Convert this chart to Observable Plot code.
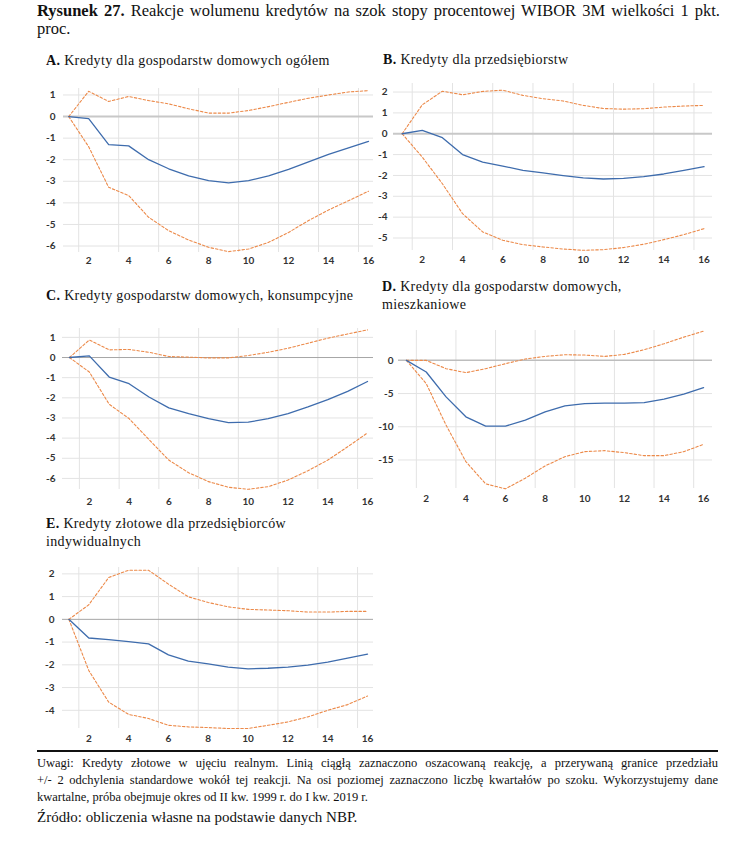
<!DOCTYPE html>
<html>
<head>
<meta charset="utf-8">
<script src="https://cdn.jsdelivr.net/npm/d3@7"></script>
<script src="https://cdn.jsdelivr.net/npm/@observablehq/plot@0.6"></script>
<style>
  body { margin:0; background:#fff; width:745px; height:844px; position:relative; overflow:hidden; font-family:"Liberation Serif", serif; color:#111; }
  .abs { position:absolute; }
  .title { left:37px; width:683px; font-size:16.5px; line-height:18px; white-space:nowrap; }
  .just { text-align:justify; text-align-last:justify; white-space:normal; }
  .ptitle { font-size:14px; line-height:18px; letter-spacing:0.35px; white-space:nowrap; }
  #rule { left:37px; top:750px; width:681px; height:0; border-top:2px solid #111; }
  .note { left:37px; width:681px; font-size:12.5px; line-height:17px; white-space:nowrap; }
  #source { left:37px; top:809px; font-size:15px; }
</style>
</head>
<body>
<div class="abs title just" style="top:2px"><b>Rysunek 27.</b> Reakcje wolumenu kredytów na szok stopy procentowej WIBOR 3M wielkości 1 pkt.</div>
<div class="abs title" style="top:20px">proc.</div>
<div id="tA" class="abs ptitle" style="left:46px;top:52px"><b>A.</b> Kredyty dla gospodarstw domowych ogółem</div>
<div id="tB" class="abs ptitle" style="left:383px;top:51px"><b>B.</b> Kredyty dla przedsiębiorstw</div>
<div id="tC" class="abs ptitle" style="left:46px;top:287px"><b>C.</b> Kredyty gospodarstw domowych, konsumpcyjne</div>
<div id="tD" class="abs ptitle" style="left:382px;top:278px"><b>D.</b> Kredyty dla gospodarstw domowych,<br>mieszkaniowe</div>
<div id="tE" class="abs ptitle" style="left:46px;top:515px"><b>E.</b> Kredyty złotowe dla przedsiębiorców<br>indywidualnych</div>
<div id="rule" class="abs"></div>
<div class="abs note just" style="top:755px">Uwagi: Kredyty złotowe w ujęciu realnym. Linią ciągłą zaznaczono oszacowaną reakcję, a przerywaną granice przedziału</div>
<div class="abs note just" style="top:772px">+/- 2 odchylenia standardowe wokół tej reakcji. Na osi poziomej zaznaczono liczbę kwartałów po szoku. Wykorzystujemy dane</div>
<div class="abs note" style="top:789px">kwartalne, próba obejmuje okres od II kw. 1999 r. do I kw. 2019 r.</div>
<div id="source" class="abs">Źródło: obliczenia własne na podstawie danych NBP.</div>
<script>
// ---- data ----
const quarters = [1,2,3,4,5,6,7,8,9,10,11,12,13,14,15,16];
const xTickLabels = [2,4,6,8,10,12,14,16];

const aMid = [0,-0.1,-1.3,-1.36,-2.0,-2.42,-2.75,-2.97,-3.07,-2.97,-2.75,-2.45,-2.1,-1.75,-1.45,-1.15];
const aUp  = [0,1.17,0.7,0.93,0.74,0.59,0.36,0.16,0.16,0.28,0.46,0.66,0.85,1.0,1.14,1.2];
const aLow = [0,-1.4,-3.28,-3.66,-4.67,-5.29,-5.72,-6.06,-6.26,-6.14,-5.83,-5.37,-4.82,-4.33,-3.9,-3.46];
const aTicks = [1,0,-1,-2,-3,-4,-5,-6];

const bMid = [0,0.16,-0.19,-1.0,-1.36,-1.55,-1.76,-1.88,-2.01,-2.12,-2.17,-2.14,-2.06,-1.93,-1.76,-1.58];
const bUp  = [0,1.39,2.04,1.87,2.03,2.09,1.84,1.68,1.57,1.36,1.21,1.18,1.2,1.28,1.33,1.36];
const bLow = [0,-1.12,-2.4,-3.83,-4.71,-5.11,-5.32,-5.43,-5.53,-5.59,-5.56,-5.46,-5.3,-5.08,-4.84,-4.55];
const bTicks = [2,1,0,-1,-2,-3,-4,-5];

const cMid = [0,0.08,-0.97,-1.3,-1.96,-2.5,-2.78,-3.03,-3.23,-3.21,-3.03,-2.78,-2.45,-2.09,-1.68,-1.19];
const cUp  = [0,0.87,0.38,0.4,0.26,0.05,0.02,-0.02,-0.02,0.1,0.26,0.46,0.71,0.96,1.17,1.37];
const cLow = [0,-0.72,-2.32,-3.03,-4.07,-5.09,-5.72,-6.16,-6.44,-6.54,-6.41,-6.08,-5.62,-5.09,-4.43,-3.74];
const cTicks = [1,0,-1,-2,-3,-4,-5,-6];

const dMid = [0,-1.75,-5.5,-8.5,-9.9,-9.9,-9.0,-7.75,-6.85,-6.5,-6.45,-6.45,-6.35,-5.85,-5.1,-4.1];
const dUp  = [0,0,-1.25,-1.85,-1.25,-0.5,0.2,0.6,0.85,0.8,0.6,0.9,1.6,2.5,3.5,4.4];
const dLow = [0,-3.5,-9.75,-15.25,-18.6,-19.35,-17.75,-15.9,-14.5,-13.75,-13.6,-13.9,-14.35,-14.35,-13.75,-12.65];
const dTicks = [0,-5,-10,-15];

const eMid = [0,-0.82,-0.89,-0.98,-1.08,-1.56,-1.84,-1.96,-2.1,-2.18,-2.15,-2.1,-2.01,-1.88,-1.71,-1.53];
const eUp  = [0,0.64,1.84,2.16,2.16,1.55,0.99,0.74,0.55,0.44,0.41,0.38,0.32,0.32,0.35,0.35];
const eLow = [0,-2.25,-3.64,-4.18,-4.36,-4.66,-4.73,-4.76,-4.8,-4.8,-4.66,-4.51,-4.29,-4.0,-3.75,-3.37];
const eTicks = [2,1,0,-1,-2,-3,-4];

// ---- layout ----
const panels = [
  {mid:aMid, up:aUp, low:aLow, ticks:aTicks, L:63, R:373, T:88, B:252, xd:[0.74,16.25], yd:[-6.3,1.3], zw:2, zc:"#c8c8c8", xpad:4, ypad:8},
  {mid:bMid, up:bUp, low:bLow, ticks:bTicks, L:393, R:712, T:83, B:250, xd:[0.57,16.42], yd:[-5.6,2.41], zw:2, zc:"#c8c8c8", xpad:5, ypad:6},
  {mid:cMid, up:cUp, low:cLow, ticks:cTicks, L:62, R:373, T:328, B:489, xd:[0.65,16.3], yd:[-6.55,1.44], zw:1, zc:"#a6a6a6", xpad:8, ypad:7},
  {mid:dMid, up:dUp, low:dLow, ticks:dTicks, L:398, R:712, T:330, B:488, xd:[0.6,16.45], yd:[-19.3,4.5], zw:1.5, zc:"#bdbdbd", xpad:6, ypad:5},
  {mid:eMid, up:eUp, low:eLow, ticks:eTicks, L:62, R:373, T:567, B:728, xd:[0.68,16.3], yd:[-4.8,2.28], zw:1, zc:"#a6a6a6", xpad:6, ypad:8}
];

const gridXs = quarters.filter(q => q % 2 === 0).map(q => q - 0.5);

for (const p of panels) {
  const ml = 40, mr = 10, mt = 5, mb = 22;
  const rows = quarters.map((q, i) => ({q, mid: p.mid[i], up: p.up[i], low: p.low[i]}));
  const chart = Plot.plot({
    width: (p.R - p.L) + ml + mr,
    height: (p.B - p.T) + mt + mb,
    marginLeft: ml, marginRight: mr, marginTop: mt, marginBottom: mb,
    style: {fontFamily: "Lato, 'Liberation Sans', sans-serif", fontSize: "10px", fontWeight: "bold", color: "#333", background: "transparent"},
    x: {domain: p.xd, label: null},
    y: {domain: p.yd, label: null},
    marks: [
      Plot.ruleX(gridXs, {stroke: "#e3e3e3", strokeWidth: 1}),
      Plot.ruleY(p.ticks.filter(t => t !== 0), {stroke: "#e3e3e3", strokeWidth: 1}),
      Plot.ruleY([0], {stroke: p.zc, strokeWidth: p.zw}),
      Plot.axisX({ticks: xTickLabels, tickSize: 0, tickPadding: p.xpad, label: null, tickFormat: d => String(d)}),
      Plot.axisY({ticks: p.ticks, tickSize: 0, tickPadding: p.ypad, label: null, tickFormat: d => d < 0 ? "-" + Math.abs(d) : String(d)}),
      Plot.line(rows, {x: "q", y: "up", stroke: "#ec8a4a", strokeWidth: 1.1, strokeDasharray: "2.5,2"}),
      Plot.line(rows, {x: "q", y: "low", stroke: "#ec8a4a", strokeWidth: 1.1, strokeDasharray: "2.5,2"}),
      Plot.line(rows, {x: "q", y: "mid", stroke: "#3e6cad", strokeWidth: 1.3})
    ]
  });
  chart.style.position = "absolute";
  chart.style.left = (p.L - ml) + "px";
  chart.style.top = (p.T - mt) + "px";
  document.body.appendChild(chart);
}
</script>
</body>
</html>
